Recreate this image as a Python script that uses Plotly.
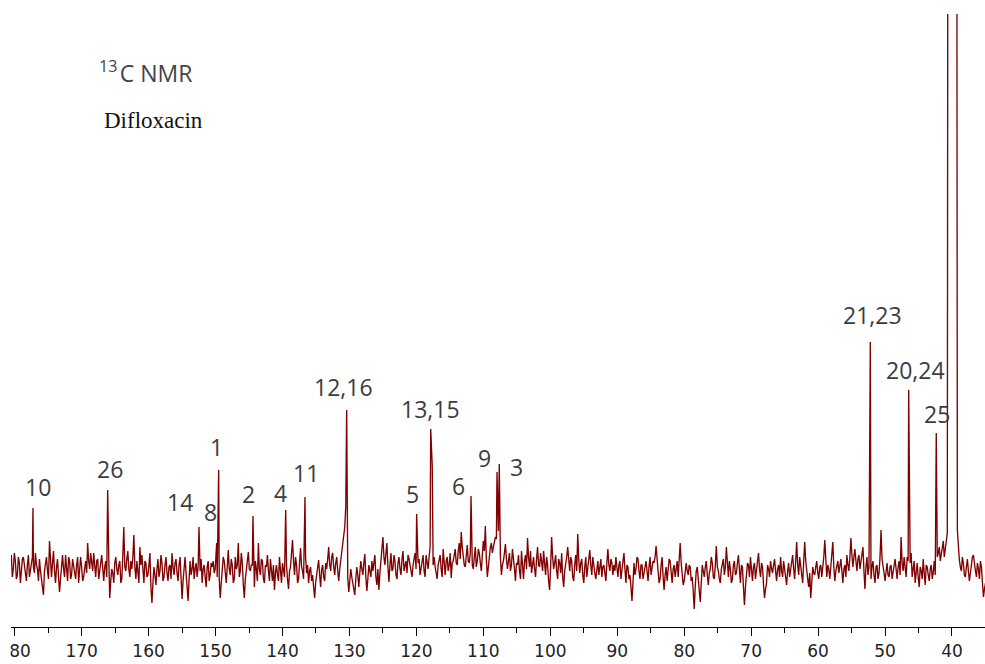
import numpy as np
import plotly.graph_objects as go

# 13C NMR spectrum of difloxacin (DMSO-d6)
# Baseline intensities sampled every 0.3 ppm from 180.5 down to 35.0 ppm
baseline = [
    72, 58, 66, 52, 64, 56, 70, 54, 62, 50, 66, 60, 74, 58, 68, 48, 32, 62, 56, 86,
    50, 76, 44, 68, 35, 64, 58, 72, 46, 66, 52, 62, 48, 70, 56, 60, 50, 66, 84, 58,
    62, 74, 50, 68, 54, 72, 46, 66, 60, 29, 58, 44, 70, 52, 66, 48, 100, 56, 76, 50,
    58, 92, 48, 56, 80, 72, 44, 64, 52, 74, 24, 60, 42, 68, 56, 64, 50, 70, 46, 62,
    74, 52, 68, 46, 70, 28, 62, 54, 26, 66, 58, 48, 64, 60, 56, 44, 62, 40, 66, 52,
    60, 54, 62, 70, 29, 56, 66, 44, 77, 52, 62, 48, 58, 84, 56, 64, 29, 60, 75, 56,
    62, 40, 58, 84, 52, 66, 44, 60, 56, 68, 46, 37, 62, 46, 58, 64, 50, 62, 38, 60,
    87, 52, 62, 48, 79, 56, 60, 54, 44, 60, 52, 29, 54, 67, 40, 62, 46, 58, 80, 56,
    74, 52, 70, 46, 66, 88, 100, 72, 35, 58, 44, 32, 60, 40, 66, 52, 73, 36, 62, 50,
    56, 72, 42, 37, 68, 90, 62, 84, 45, 74, 58, 66, 48, 70, 52, 76, 60, 54, 68, 58,
    62, 74, 56, 68, 60, 72, 50, 66, 70, 110, 62, 60, 48, 66, 58, 78, 52, 70, 62, 49,
    66, 78, 62, 84, 95, 70, 60, 82, 64, 72, 58, 80, 66, 74, 56, 86, 101, 50, 72, 84,
    80, 90, 84, 88, 52, 66, 83, 58, 74, 62, 70, 46, 62, 56, 76, 48, 72, 89, 60, 54,
    70, 50, 80, 60, 66, 76, 52, 62, 37, 90, 58, 72, 48, 64, 74, 40, 62, 80, 56, 66,
    46, 72, 93, 54, 68, 44, 70, 60, 77, 52, 60, 48, 66, 58, 50, 62, 46, 78, 56, 64,
    62, 70, 50, 66, 56, 74, 44, 60, 52, 26, 64, 58, 68, 48, 62, 54, 66, 46, 70, 58,
    64, 81, 56, 48, 70, 37, 60, 54, 66, 44, 62, 58, 50, 84, 56, 46, 64, 52, 60, 50,
    18, 56, 46, 25, 62, 50, 66, 42, 58, 64, 48, 81, 56, 44, 62, 52, 80, 50, 58, 48,
    66, 54, 72, 44, 60, 22, 52, 62, 70, 46, 64, 56, 74, 50, 60, 29, 44, 58, 66, 54,
    68, 46, 62, 70, 50, 58, 42, 64, 56, 72, 48, 85, 52, 60, 44, 85, 54, 40, 29, 60,
    52, 66, 48, 62, 58, 87, 50, 58, 64, 85, 46, 60, 54, 68, 44, 62, 72, 56, 89, 60,
    78, 56, 72, 64, 80, 38, 70, 60, 48, 66, 44, 62, 54, 97, 58, 46, 64, 50, 62, 54,
    68, 48, 66, 90, 56, 60, 70, 52, 74, 58, 44, 64, 40, 56, 68, 42, 60, 46, 62, 54,
    52, 70, 80, 72, 86, 78, 94, 1800, 1800, 1800, 1800, 97, 67, 56, 64, 50, 68, 46, 62, 72,
    56, 64, 48, 60, 30, 44,
]
# Intermediate samples, halfway between consecutive baseline points (180.35 ... 35.15 ppm)
baseline_mid = [
    50, 74, 48, 70, 44, 68, 60, 46, 72, 58, 70, 54, 62, 46, 56, 40, 56, 70, 48, 64,
    64, 56, 60, 50, 48, 72, 50, 58, 70, 48, 68, 54, 62, 44, 70, 46, 62, 54, 66, 74,
    56, 62, 66, 48, 64, 52, 60, 50, 70, 46, 54, 64, 58, 62, 44, 72, 60, 68, 58, 66,
    70, 60, 66, 44, 62, 54, 66, 50, 62, 40, 44, 52, 58, 50, 72, 46, 62, 54, 60, 48,
    60, 64, 54, 62, 50, 46, 70, 40, 48, 52, 70, 58, 50, 44, 68, 58, 50, 60, 46, 64,
    66, 58, 50, 48, 44, 70, 50, 60, 58, 68, 44, 70, 62, 50, 74, 42, 48, 66, 58, 62,
    54, 66, 46, 58, 68, 48, 62, 72, 46, 58, 62, 54, 52, 70, 44, 56, 68, 48, 56, 74,
    66, 70, 44, 64, 60, 48, 70, 62, 56, 46, 40, 44, 62, 52, 58, 50, 64, 68, 62, 70,
    60, 64, 56, 58, 78, 94, 120, 50, 46, 50, 38, 48, 52, 54, 58, 64, 50, 48, 56, 66,
    64, 50, 58, 54, 76, 70, 74, 60, 62, 56, 72, 52, 64, 58, 68, 56, 66, 72, 60, 50,
    70, 58, 64, 52, 68, 56, 72, 58, 80, 90, 70, 54, 62, 72, 50, 64, 66, 56, 74, 64,
    72, 64, 76, 68, 80, 62, 76, 66, 74, 62, 70, 60, 78, 64, 72, 76, 68, 60, 80, 74,
    86, 88, 96, 70, 62, 74, 68, 66, 56, 78, 58, 64, 72, 48, 62, 66, 58, 70, 76, 62,
    58, 68, 62, 74, 56, 60, 70, 46, 60, 70, 64, 56, 68, 54, 50, 56, 70, 62, 70, 50,
    62, 56, 68, 64, 52, 60, 50, 68, 62, 70, 54, 60, 52, 68, 60, 54, 64, 62, 68, 52,
    56, 60, 62, 48, 66, 58, 62, 48, 40, 44, 52, 70, 56, 62, 48, 64, 56, 60, 52, 66,
    70, 64, 44, 62, 50, 52, 46, 68, 54, 58, 50, 66, 70, 64, 42, 60, 56, 62, 46, 36,
    40, 60, 34, 44, 56, 60, 52, 54, 70, 50, 62, 60, 48, 58, 68, 60, 62, 66, 44, 62,
    52, 64, 58, 62, 40, 40, 64, 50, 56, 60, 48, 66, 58, 64, 42, 38, 62, 50, 58, 62,
    56, 58, 50, 56, 66, 48, 56, 50, 66, 58, 66, 62, 70, 52, 66, 66, 48, 54, 48, 54,
    60, 54, 60, 50, 70, 64, 62, 48, 70, 60, 56, 66, 60, 56, 58, 50, 62, 70, 72, 70,
    66, 68, 58, 74, 56, 60, 52, 66, 60, 52, 60, 48, 70, 68, 54, 60, 52, 60, 48, 64,
    58, 60, 52, 64, 70, 50, 66, 64, 50, 66, 56, 50, 60, 48, 54, 62, 52, 58, 48, 66,
    60, 74, 66, 82, 70, 88, 90, 1800, 1800, 1800, 120, 80, 60, 70, 52, 60, 56, 54, 70, 60,
    50, 58, 66, 44, 38,
]
start_ppm = 180.5
step_ppm = 0.3

# Resolved signals: shift (ppm), intensity, assignment
peak_ppm = [177.27, 166.11, 152.47, 149.83, 149.53, 144.41, 139.52, 136.64, 130.41,
            119.96, 117.86, 117.63, 111.84, 107.96, 107.62, 52.20, 46.47, 42.35,
            40.49, 39.40]
peak_int = [119, 137, 100, 84, 157, 111, 117, 130, 217,
            113, 198, 161, 131, 155, 163, 285, 237, 194,
            1800, 1800]
peak_label = ["10", "26", "14", "8", "1", "2", "4", "11", "12,16",
              "5", "13,15", "", "6", "9", "3", "21,23", "20,24", "25",
              "", ""]

# label placement relative to the peak tip (pixels)
label_shift = {
    "10": (5, 21), "26": (2, 21), "14": (-19, 25), "8": (-6, 31), "1": (-2, 23),
    "2": (-4, 22), "4": (-5, 17), "11": (1, 24), "12,16": (-3, 23), "5": (-4, 20),
    "13,15": (0, 20), "6": (-13, 10), "9": (-13, 14), "3": (17, -3),
    "21,23": (2, 27), "20,24": (7, 20), "25": (1, 19),
}

grid_ppm = start_ppm - step_ppm * np.arange(len(baseline))
mid_ppm = start_ppm - step_ppm / 2 - step_ppm * np.arange(len(baseline_mid))
samples = list(zip(grid_ppm, baseline)) + list(zip(mid_ppm, baseline_mid))
pts = [(p, v) for p, v in samples
       if min(abs(p - q) for q in peak_ppm) > 0.07]
pts += list(zip(peak_ppm, peak_int))
pts.sort(key=lambda t: -t[0])
x = [p for p, _ in pts]
y = [v for _, v in pts]

fig = go.Figure()
fig.add_trace(go.Scatter(
    x=x, y=y, mode="lines",
    line=dict(color="#800000", width=1.35),
    hoverinfo="skip", showlegend=False,
))

for p, h, lab in zip(peak_ppm, peak_int, peak_label):
    if not lab:
        continue
    dx, dy = label_shift[lab]
    fig.add_annotation(
        x=p, y=h, text=lab, showarrow=False,
        xshift=dx, yshift=dy,
        font=dict(family="Open Sans", size=23, color="#3c3c3c"),
    )

fig.add_annotation(
    xref="paper", yref="paper", x=0.088, y=0.905, xanchor="left", yanchor="middle",
    text="<sup>13</sup>\u200aC NMR", showarrow=False,
    font=dict(family="Open Sans", size=23, color="#444444"),
)
fig.add_annotation(
    xref="paper", yref="paper", x=0.093, y=0.827, xanchor="left", yanchor="middle",
    text="Difloxacin", showarrow=False,
    font=dict(family="Liberation Serif", size=23, color="#111111"),
)

# the spectrum frame ends at the left edge of the axis line
fig.add_shape(
    type="rect", xref="paper", yref="paper", layer="above",
    x0=-11.5 / 974, x1=-0.6 / 974, y0=-37 / 613, y1=-0.01,
    fillcolor="white", line=dict(width=0),
)

fig.update_layout(
    width=985, height=664,
    margin=dict(l=11, r=0, t=14, b=37),
    paper_bgcolor="white", plot_bgcolor="white",
    xaxis=dict(
        range=[180.55, 35.07], showgrid=False, zeroline=False,
        showline=True, linecolor="black", linewidth=1.3,
        ticks="outside", ticklen=8, tickwidth=1.3, tickcolor="black",
        dtick=10, tick0=0, ticklabeloverflow="allow",
        minor=dict(ticks="outside", ticklen=5, tickwidth=1.1, tickcolor="black", dtick=5),
        tickfont=dict(family="DejaVu Sans", size=17, color="#222222"),
        automargin=False,
    ),
    yaxis=dict(range=[0, 613], visible=False, showgrid=False, zeroline=False),
)

fig.write_html("out.html")
